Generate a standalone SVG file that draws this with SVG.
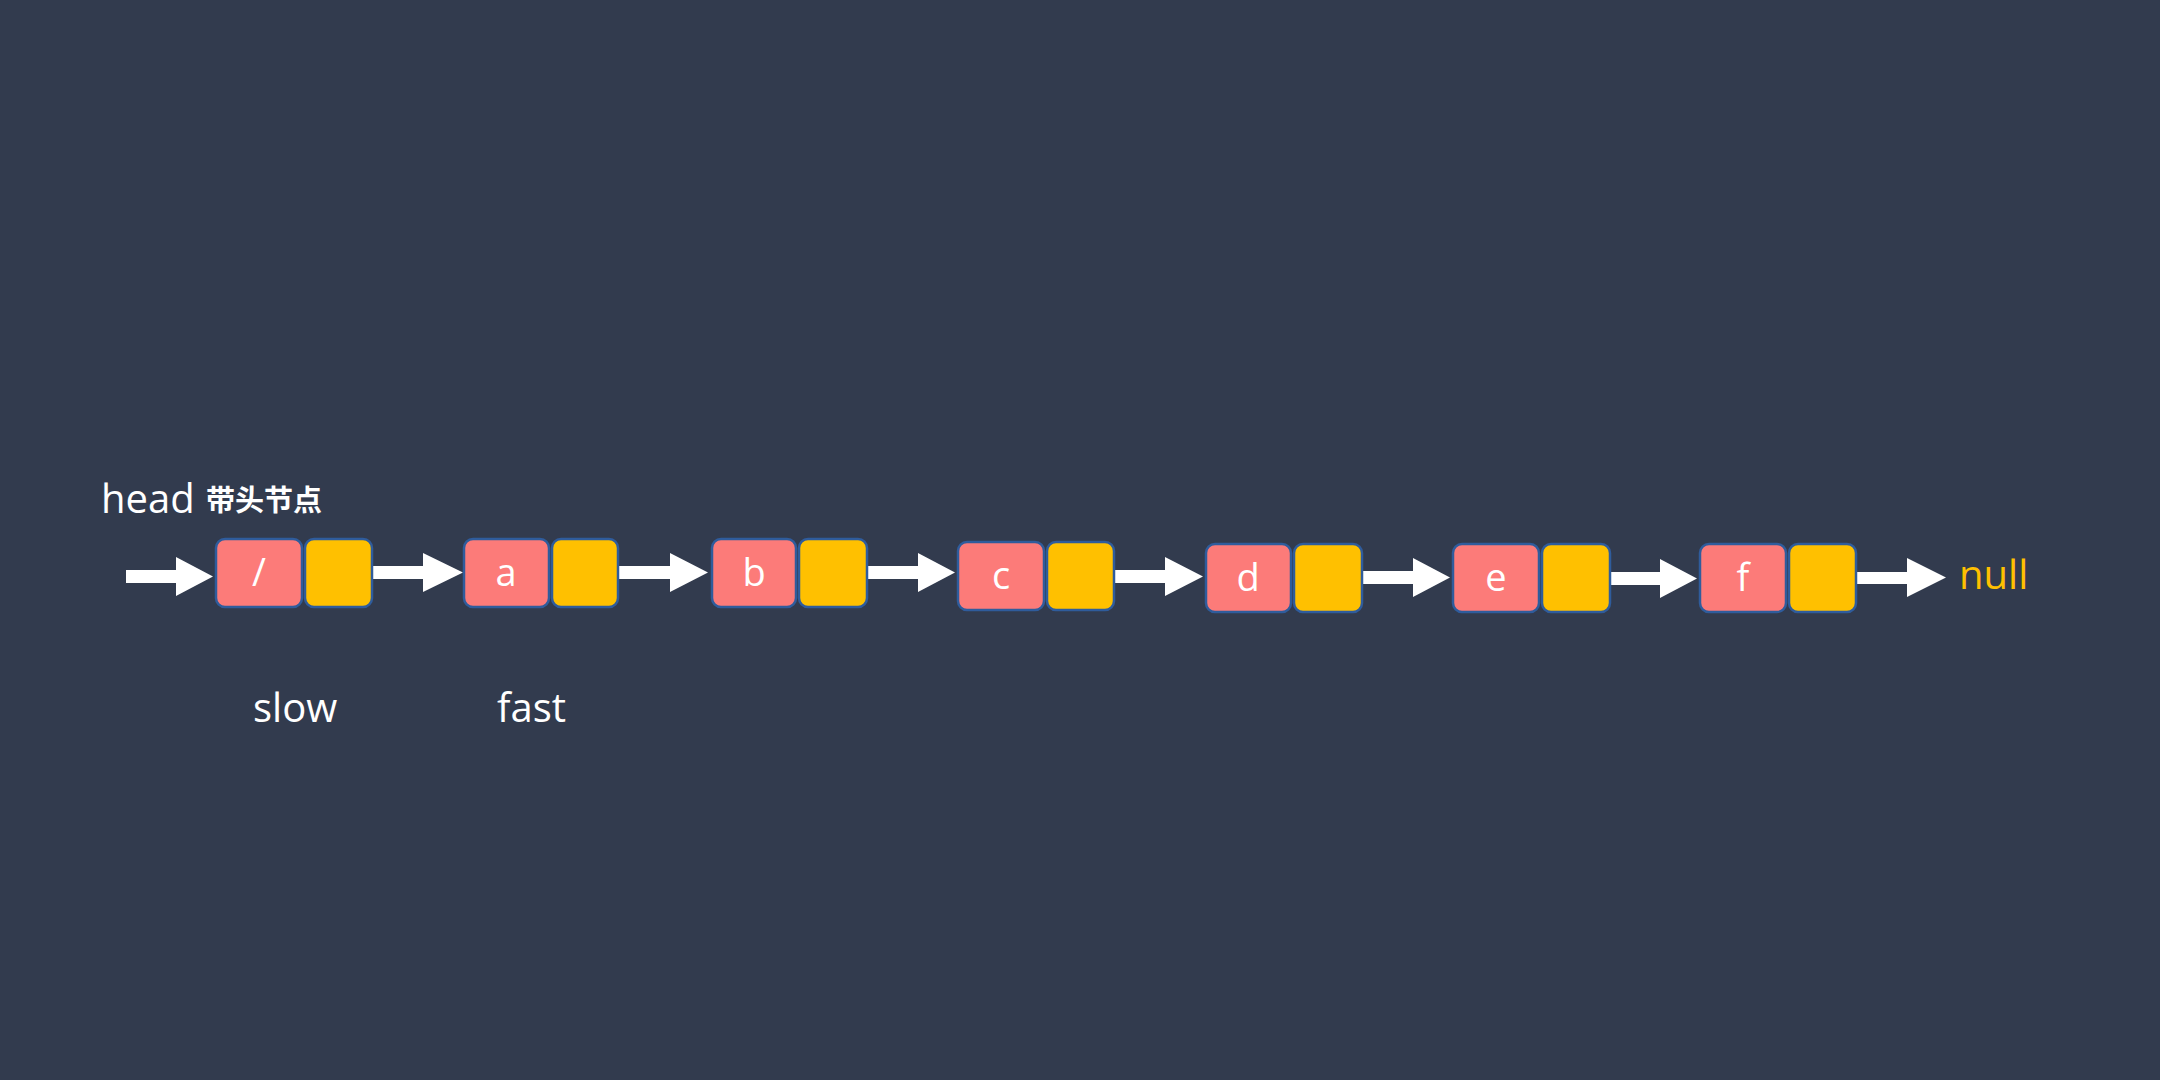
<svg xmlns="http://www.w3.org/2000/svg" width="2160" height="1080" viewBox="0 0 2160 1080">
  <style>
    .bg { fill: #323b4e; }
    .data { fill: #fc7b79; stroke: #2f5c9c; stroke-width: 2.5; }
    .next { fill: #ffc000; stroke: #2f5c9c; stroke-width: 2.5; }
    .val { font-family: "Open Sans", "Liberation Sans", sans-serif; font-size: 38px; fill: #ffffff; text-anchor: middle; }
    .lbl { font-family: "Open Sans", "Liberation Sans", sans-serif; font-size: 40px; fill: #ffffff; }
    .cjk { font-family: "Noto Sans CJK SC", sans-serif; font-size: 29px; font-weight: bold; fill: #ffffff; }
    .null { font-family: "Open Sans", "Liberation Sans", sans-serif; font-size: 40px; fill: #ffc000; }
    .arrow { fill: #ffffff; }
  </style>
  <rect class="bg" x="0" y="0" width="2160" height="1080"/>

  <g id="labels">
    <text class="lbl" x="101" y="513">head</text>
    <text class="cjk" x="206" y="511">带头节点</text>
    <text class="lbl" x="253" y="722">slow</text>
    <text class="lbl" x="497" y="722">fast</text>
    <text class="null" x="1959" y="589">null</text>
  </g>

  <g id="connectors">
    <polygon class="arrow" points="126,570 176,570 176,557 213,576.5 176,596 176,583 126,583"/>
    <polygon class="arrow" points="373,566 423,566 423,553 463,572.5 423,592 423,579 373,579"/>
    <polygon class="arrow" points="618,566 670,566 670,553 708,572.5 670,592 670,579 618,579"/>
    <polygon class="arrow" points="867,566 918,566 918,553 955,572.5 918,592 918,579 867,579"/>
    <polygon class="arrow" points="1114,570 1165,570 1165,557 1203,576.5 1165,596 1165,583 1114,583"/>
    <polygon class="arrow" points="1362,571 1413,571 1413,558 1450,577.5 1413,597 1413,584 1362,584"/>
    <polygon class="arrow" points="1610,572 1660,572 1660,559 1697,578.5 1660,598 1660,585 1610,585"/>
    <polygon class="arrow" points="1856,572 1907,572 1907,558 1946,577.5 1907,597 1907,584 1856,584"/>
  </g>

  <g id="node-head">
    <rect class="data" x="216" y="539" width="86" height="68" rx="9"/>
    <rect class="next" x="305" y="539" width="67" height="68" rx="9"/>
    <text class="val" x="259" y="586">/</text>
  </g>
  <g id="node-a">
    <rect class="data" x="464" y="539" width="85" height="68" rx="9"/>
    <rect class="next" x="552" y="539" width="66" height="68" rx="9"/>
    <text class="val" x="506" y="586">a</text>
  </g>
  <g id="node-b">
    <rect class="data" x="712" y="539" width="84" height="68" rx="9"/>
    <rect class="next" x="799" y="539" width="68" height="68" rx="9"/>
    <text class="val" x="754" y="586">b</text>
  </g>
  <g id="node-c">
    <rect class="data" x="958" y="542" width="86" height="68" rx="9"/>
    <rect class="next" x="1047" y="542" width="67" height="68" rx="9"/>
    <text class="val" x="1001" y="589">c</text>
  </g>
  <g id="node-d">
    <rect class="data" x="1206" y="544" width="85" height="68" rx="9"/>
    <rect class="next" x="1294" y="544" width="68" height="68" rx="9"/>
    <text class="val" x="1248" y="591">d</text>
  </g>
  <g id="node-e">
    <rect class="data" x="1453" y="544" width="86" height="68" rx="9"/>
    <rect class="next" x="1542" y="544" width="68" height="68" rx="9"/>
    <text class="val" x="1496" y="591">e</text>
  </g>
  <g id="node-f">
    <rect class="data" x="1700" y="544" width="86" height="68" rx="9"/>
    <rect class="next" x="1789" y="544" width="67" height="68" rx="9"/>
    <text class="val" x="1743" y="591">f</text>
  </g>
</svg>
